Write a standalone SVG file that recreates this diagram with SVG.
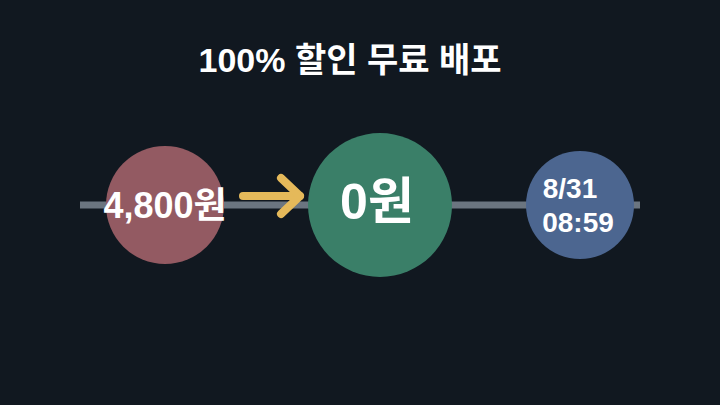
<svg xmlns="http://www.w3.org/2000/svg" width="720" height="405" viewBox="0 0 720 405">
<style>
text{font-family:"Liberation Sans","Noto Sans CJK KR",sans-serif;font-weight:bold;fill:#fff;text-anchor:middle}
</style>
<rect width="720" height="405" fill="#111820"/>
<text x="350" y="72" font-size="34">100% 할인 무료 배포</text>
<g id="connectors">
<line x1="80" y1="205" x2="640" y2="205" stroke="#6b7580" stroke-width="7"/>
</g>
<g id="old"><circle cx="165" cy="205" r="59" fill="#935a62"/><text x="165" y="218" font-size="36">4,800원</text></g>
<g id="arrow" fill="none" stroke="#e5b95a" stroke-width="8" stroke-linecap="round" stroke-linejoin="round">
<line x1="243" y1="196" x2="300" y2="196"/><polyline points="281,178 300,196 281,214"/></g>
<g id="new"><circle cx="380" cy="205" r="72" fill="#3a7f68"/><text x="377" y="219" font-size="50">0원</text></g>
<g id="date"><circle cx="580" cy="205" r="54" fill="#4c6690"/><text x="570" y="198" font-size="28">8/31</text><text x="578" y="232" font-size="28">08:59</text></g>
</svg>
